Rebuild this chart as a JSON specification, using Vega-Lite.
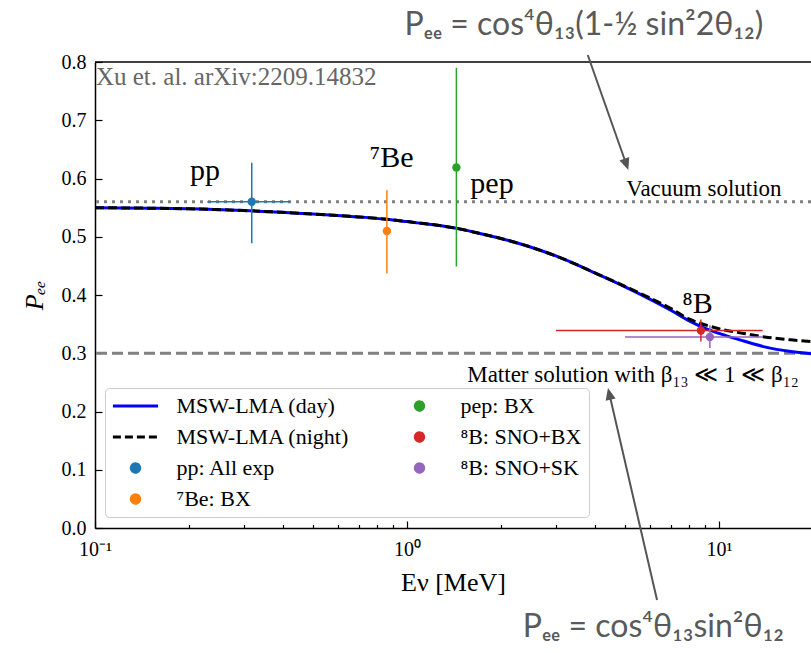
{
  "$schema": "https://vega.github.io/schema/vega-lite/v6.json",
  "width": 716,
  "height": 466,
  "autosize": {"type": "none"},
  "padding": {"left": 95, "top": 62, "right": 0, "bottom": 125},
  "background": "white",
  "config": {"view": {"stroke": null}, "font": "Liberation Serif"},
  "resolve": {"axis": {"x": "independent"}},
  "datasets": {
    "curve": [
      {"series": "MSW-LMA (day)", "E": 0.1, "P": 0.550},
      {"series": "MSW-LMA (day)", "E": 0.15, "P": 0.549},
      {"series": "MSW-LMA (day)", "E": 0.2, "P": 0.548},
      {"series": "MSW-LMA (day)", "E": 0.3, "P": 0.545},
      {"series": "MSW-LMA (day)", "E": 0.5, "P": 0.539},
      {"series": "MSW-LMA (day)", "E": 0.7, "P": 0.534},
      {"series": "MSW-LMA (day)", "E": 0.86, "P": 0.530},
      {"series": "MSW-LMA (day)", "E": 1.0, "P": 0.526},
      {"series": "MSW-LMA (day)", "E": 1.2, "P": 0.521},
      {"series": "MSW-LMA (day)", "E": 1.44, "P": 0.5145},
      {"series": "MSW-LMA (day)", "E": 1.7, "P": 0.506},
      {"series": "MSW-LMA (day)", "E": 2.0, "P": 0.497},
      {"series": "MSW-LMA (day)", "E": 2.5, "P": 0.482},
      {"series": "MSW-LMA (day)", "E": 3.0, "P": 0.467},
      {"series": "MSW-LMA (day)", "E": 3.5, "P": 0.452},
      {"series": "MSW-LMA (day)", "E": 4.0, "P": 0.438},
      {"series": "MSW-LMA (day)", "E": 5.0, "P": 0.414},
      {"series": "MSW-LMA (day)", "E": 6.0, "P": 0.393},
      {"series": "MSW-LMA (day)", "E": 7.0, "P": 0.374},
      {"series": "MSW-LMA (day)", "E": 8.0, "P": 0.356},
      {"series": "MSW-LMA (day)", "E": 9.0, "P": 0.343},
      {"series": "MSW-LMA (day)", "E": 10, "P": 0.334},
      {"series": "MSW-LMA (day)", "E": 12, "P": 0.321},
      {"series": "MSW-LMA (day)", "E": 14, "P": 0.311},
      {"series": "MSW-LMA (day)", "E": 17, "P": 0.303},
      {"series": "MSW-LMA (day)", "E": 20, "P": 0.299},
      {"series": "MSW-LMA (night)", "E": 0.1, "P": 0.550},
      {"series": "MSW-LMA (night)", "E": 0.15, "P": 0.549},
      {"series": "MSW-LMA (night)", "E": 0.2, "P": 0.548},
      {"series": "MSW-LMA (night)", "E": 0.3, "P": 0.545},
      {"series": "MSW-LMA (night)", "E": 0.5, "P": 0.539},
      {"series": "MSW-LMA (night)", "E": 0.7, "P": 0.534},
      {"series": "MSW-LMA (night)", "E": 0.86, "P": 0.530},
      {"series": "MSW-LMA (night)", "E": 1.0, "P": 0.526},
      {"series": "MSW-LMA (night)", "E": 1.2, "P": 0.521},
      {"series": "MSW-LMA (night)", "E": 1.44, "P": 0.5145},
      {"series": "MSW-LMA (night)", "E": 1.7, "P": 0.506},
      {"series": "MSW-LMA (night)", "E": 2.0, "P": 0.497},
      {"series": "MSW-LMA (night)", "E": 2.5, "P": 0.482},
      {"series": "MSW-LMA (night)", "E": 3.0, "P": 0.467},
      {"series": "MSW-LMA (night)", "E": 3.5, "P": 0.452},
      {"series": "MSW-LMA (night)", "E": 4.0, "P": 0.438},
      {"series": "MSW-LMA (night)", "E": 5.0, "P": 0.415},
      {"series": "MSW-LMA (night)", "E": 6.0, "P": 0.395},
      {"series": "MSW-LMA (night)", "E": 7.0, "P": 0.377},
      {"series": "MSW-LMA (night)", "E": 8.0, "P": 0.359},
      {"series": "MSW-LMA (night)", "E": 9.0, "P": 0.349},
      {"series": "MSW-LMA (night)", "E": 10, "P": 0.342},
      {"series": "MSW-LMA (night)", "E": 12, "P": 0.334},
      {"series": "MSW-LMA (night)", "E": 14, "P": 0.328},
      {"series": "MSW-LMA (night)", "E": 17, "P": 0.323},
      {"series": "MSW-LMA (night)", "E": 20, "P": 0.320}
    ],
    "meas": [
      {"series": "pp: All exp", "E": 0.318, "P": 0.560, "Elo": 0.229, "Ehi": 0.422, "Plo": 0.489, "Phi": 0.627},
      {"series": "⁷Be: BX", "E": 0.862, "P": 0.510, "Elo": 0.862, "Ehi": 0.862, "Plo": 0.437, "Phi": 0.580},
      {"series": "pep: BX", "E": 1.44, "P": 0.619, "Elo": 1.44, "Ehi": 1.44, "Plo": 0.449, "Phi": 0.790},
      {"series": "⁸B: SNO+BX", "E": 8.75, "P": 0.339, "Elo": 3.0, "Ehi": 13.8, "Plo": 0.320, "Phi": 0.358},
      {"series": "⁸B: SNO+SK", "E": 9.35, "P": 0.328, "Elo": 5.0, "Ehi": 13.8, "Plo": 0.309, "Phi": 0.348}
    ],
    "notes": [
      {"kind": "cite", "text": "Xu et. al. arXiv:2209.14832", "E": 0.1007, "P": 0.7605},
      {"kind": "label", "text": "pp", "E": 0.2252, "P": 0.5974},
      {"kind": "label", "text": "⁷Be", "E": 0.893, "P": 0.620},
      {"kind": "label", "text": "pep", "E": 1.873, "P": 0.5746},
      {"kind": "label", "text": "⁸B", "E": 8.53, "P": 0.3686},
      {"kind": "note", "text": "Vacuum solution", "E": 8.95, "P": 0.570},
      {"kind": "note", "text": "Matter solution with β₁₃ ≪ 1 ≪ β₁₂", "E": 5.3, "P": 0.251},
      {"kind": "formula", "text": "Pₑₑ = cos⁴θ₁₃(1-½ sin²2θ₁₂)", "E": 3.69, "P": 0.8464},
      {"kind": "formula", "text": "Pₑₑ = cos⁴θ₁₃sin²θ₁₂", "E": 6.16, "P": -0.1866}
    ],
    "arrows": [
      {"which": "top", "E": 3.796, "P": 0.812, "E2": 5.016, "P2": 0.6283},
      {"which": "bottom", "E": 6.33, "P": -0.1236, "E2": 4.470, "P2": 0.2261}
    ]
  },
  "layer": [
    {
      "data": {"values": [{"P": 0.8}]},
      "mark": {"type": "rule", "color": "black", "strokeWidth": 1.5},
      "encoding": {"y": {"field": "P", "type": "quantitative", "title": "Pₑₑ"}}
    },
    {
      "data": {"values": [{"P": 0.56}]},
      "mark": {"type": "rule", "color": "#808080", "strokeWidth": 3, "strokeDash": [3, 5]},
      "encoding": {"y": {"field": "P", "type": "quantitative", "title": "Pₑₑ"}}
    },
    {
      "data": {"values": [{"P": 0.30}]},
      "mark": {"type": "rule", "color": "#808080", "strokeWidth": 3, "strokeDash": [11, 5]},
      "encoding": {"y": {"field": "P", "type": "quantitative", "title": "Pₑₑ"}}
    },
    {
      "data": {"name": "curve"},
      "transform": [{"filter": "datum.series == 'MSW-LMA (day)'"}],
      "mark": {"type": "line", "strokeWidth": 3, "interpolate": "monotone", "clip": true},
      "encoding": {
        "x": {
          "field": "E", "type": "quantitative", "title": "Eν [MeV]",
          "scale": {"type": "log", "domain": [0.1, 19.72], "nice": false},
          "axis": {
            "orient": "bottom",
            "values": [0.1, 1, 10],
            "labelExpr": "datum.value == 0.1 ? '10⁻¹' : datum.value == 1 ? '10⁰' : '10¹'",
            "labelOverlap": false,
            "labelFlush": false,
            "labelFont": "Liberation Serif",
            "labelFontSize": 20,
            "labelColor": "black",
            "labelPadding": 18,
            "tickSize": -7,
            "tickColor": "black",
            "tickWidth": 1.2,
            "domainColor": "black",
            "domainWidth": 1.5,
            "grid": false,
            "titleFont": "Liberation Serif",
            "titleFontSize": 26,
            "titleFontWeight": "normal",
            "titleColor": "black",
            "titlePadding": 10
          }
        },
        "y": {
          "field": "P", "type": "quantitative", "title": "Pₑₑ",
          "scale": {"domain": [0, 0.8], "nice": false},
          "axis": {
            "values": [0, 0.1, 0.2, 0.3, 0.4, 0.5, 0.6, 0.7, 0.8],
            "format": ".1f",
            "labelFont": "Liberation Serif",
            "labelFontSize": 20,
            "labelColor": "black",
            "labelPadding": 16,
            "tickSize": -7,
            "tickColor": "black",
            "tickWidth": 1.2,
            "domainColor": "black",
            "domainWidth": 1.5,
            "grid": false,
            "titleFont": "Liberation Serif",
            "titleFontSize": 26,
            "titleFontStyle": "italic",
            "titleFontWeight": "normal",
            "titleColor": "black",
            "titlePadding": 14
          }
        },
        "color": {
          "field": "series", "type": "nominal",
          "scale": {
            "domain": ["MSW-LMA (day)", "MSW-LMA (night)", "pp: All exp", "⁷Be: BX", "pep: BX", "⁸B: SNO+BX", "⁸B: SNO+SK"],
            "range": ["#0000ff", "#000000", "#1f77b4", "#ff7f0e", "#2ca02c", "#d62728", "#9467bd"]
          },
          "legend": {
            "title": null,
            "orient": "none",
            "legendX": 10,
            "legendY": 326,
            "columns": 2,
            "labelFont": "Liberation Serif",
            "labelFontSize": 22,
            "labelColor": "black",
            "labelLimit": 400,
            "labelOffset": 30,
            "symbolType": "circle",
            "symbolSize": 70,
            "symbolOffset": 12.5,
            "symbolStrokeWidth": 3,
            "rowPadding": 9,
            "columnPadding": 46,
            "padding": 7,
            "fillColor": "white",
            "strokeColor": "#cccccc",
            "cornerRadius": 4,
            "encode": {
              "symbols": {
                "update": {
                  "shape": {"signal": "indexof(datum.value, 'MSW') >= 0 ? 'M-5.4,0H5.4' : 'circle'"},
                  "fill": {"signal": "datum.value == 'pp: All exp' ? '#1f77b4' : datum.value == '⁷Be: BX' ? '#ff7f0e' : datum.value == 'pep: BX' ? '#2ca02c' : datum.value == '⁸B: SNO+BX' ? '#d62728' : datum.value == '⁸B: SNO+SK' ? '#9467bd' : 'transparent'"},
                  "stroke": {"signal": "datum.value == 'MSW-LMA (day)' ? '#0000ff' : datum.value == 'MSW-LMA (night)' ? '#000000' : 'transparent'"},
                  "strokeDash": {"signal": "datum.value == 'MSW-LMA (night)' ? [8, 4] : [1, 0]"}
                }
              }
            }
          }
        }
      }
    },
    {
      "data": {"name": "curve"},
      "transform": [{"filter": "datum.series == 'MSW-LMA (night)'"}],
      "mark": {"type": "line", "strokeWidth": 3, "strokeDash": [9, 4], "interpolate": "monotone", "clip": true},
      "encoding": {
        "x": {
          "field": "E", "type": "quantitative", "title": "Eν [MeV]", "scale": {"type": "log"},
          "axis": {
            "orient": "bottom",
            "values": [0.2, 0.3, 0.4, 0.5, 0.6, 0.7, 0.8, 0.9, 2, 3, 4, 5, 6, 7, 8, 9],
            "labels": false,
            "domain": false,
            "title": null,
            "grid": false,
            "tickSize": -3.5,
            "tickColor": "black",
            "tickWidth": 1.2
          }
        },
        "y": {"field": "P", "type": "quantitative", "title": "Pₑₑ"},
        "color": {"field": "series", "type": "nominal"}
      }
    },
    {
      "data": {"name": "meas"},
      "transform": [{"filter": "datum.Elo < datum.Ehi"}],
      "mark": {"type": "rule", "strokeWidth": 1.5},
      "encoding": {
        "x": {"field": "Elo", "type": "quantitative", "scale": {"type": "log"}, "axis": null},
        "x2": {"field": "Ehi"},
        "y": {"field": "P", "type": "quantitative", "title": "Pₑₑ"},
        "color": {"field": "series", "type": "nominal"}
      }
    },
    {
      "data": {"name": "meas"},
      "mark": {"type": "rule", "strokeWidth": 1.5},
      "encoding": {
        "x": {"field": "E", "type": "quantitative", "scale": {"type": "log"}, "axis": null},
        "y": {"field": "Plo", "type": "quantitative", "title": "Pₑₑ"},
        "y2": {"field": "Phi"},
        "color": {"field": "series", "type": "nominal"}
      }
    },
    {
      "data": {"name": "meas"},
      "mark": {"type": "point", "filled": true, "size": 70, "opacity": 1},
      "encoding": {
        "x": {"field": "E", "type": "quantitative", "scale": {"type": "log"}, "axis": null},
        "y": {"field": "P", "type": "quantitative", "title": "Pₑₑ"},
        "color": {"field": "series", "type": "nominal"}
      }
    },
    {
      "data": {"name": "notes"},
      "transform": [{"filter": "datum.kind == 'cite'"}],
      "mark": {"type": "text", "align": "left", "baseline": "alphabetic", "fontSize": 25, "color": "#666666", "font": "Liberation Serif"},
      "encoding": {
        "x": {"field": "E", "type": "quantitative", "scale": {"type": "log"}, "axis": null},
        "y": {"field": "P", "type": "quantitative", "title": "Pₑₑ"},
        "text": {"field": "text"}
      }
    },
    {
      "data": {"name": "notes"},
      "transform": [{"filter": "datum.kind == 'label'"}],
      "mark": {"type": "text", "align": "center", "baseline": "alphabetic", "fontSize": 30, "color": "black", "font": "Liberation Serif"},
      "encoding": {
        "x": {"field": "E", "type": "quantitative", "scale": {"type": "log"}, "axis": null},
        "y": {"field": "P", "type": "quantitative", "title": "Pₑₑ"},
        "text": {"field": "text"}
      }
    },
    {
      "data": {"name": "notes"},
      "transform": [{"filter": "datum.kind == 'note'"}],
      "mark": {"type": "text", "align": "center", "baseline": "alphabetic", "fontSize": 23, "color": "black", "font": "Liberation Serif"},
      "encoding": {
        "x": {"field": "E", "type": "quantitative", "scale": {"type": "log"}, "axis": null},
        "y": {"field": "P", "type": "quantitative", "title": "Pₑₑ"},
        "text": {"field": "text"}
      }
    },
    {
      "data": {"name": "notes"},
      "transform": [{"filter": "datum.kind == 'formula'"}],
      "mark": {"type": "text", "align": "center", "baseline": "alphabetic", "fontSize": 32, "color": "#5a5a5a", "font": "Lato", "clip": false},
      "encoding": {
        "x": {"field": "E", "type": "quantitative", "scale": {"type": "log"}, "axis": null},
        "y": {"field": "P", "type": "quantitative", "title": "Pₑₑ"},
        "text": {"field": "text"}
      }
    },
    {
      "data": {"name": "arrows"},
      "mark": {"type": "rule", "color": "#555555", "strokeWidth": 2},
      "encoding": {
        "x": {"field": "E", "type": "quantitative", "scale": {"type": "log"}, "axis": null},
        "x2": {"field": "E2"},
        "y": {"field": "P", "type": "quantitative", "title": "Pₑₑ"},
        "y2": {"field": "P2"}
      }
    },
    {
      "data": {"name": "arrows"},
      "transform": [{"filter": "datum.which == 'top'"}],
      "mark": {"type": "point", "shape": "M0,-1L0.6,0.4L-0.6,0.4Z", "size": 289, "filled": true, "color": "#555555", "opacity": 1, "angle": 160.5},
      "encoding": {
        "x": {"field": "E2", "type": "quantitative", "scale": {"type": "log"}, "axis": null},
        "y": {"field": "P2", "type": "quantitative", "title": "Pₑₑ"}
      }
    },
    {
      "data": {"name": "arrows"},
      "transform": [{"filter": "datum.which == 'bottom'"}],
      "mark": {"type": "point", "shape": "M0,-1L0.6,0.4L-0.6,0.4Z", "size": 289, "filled": true, "color": "#555555", "opacity": 1, "angle": 347},
      "encoding": {
        "x": {"field": "E2", "type": "quantitative", "scale": {"type": "log"}, "axis": null},
        "y": {"field": "P2", "type": "quantitative", "title": "Pₑₑ"}
      }
    }
  ]
}
